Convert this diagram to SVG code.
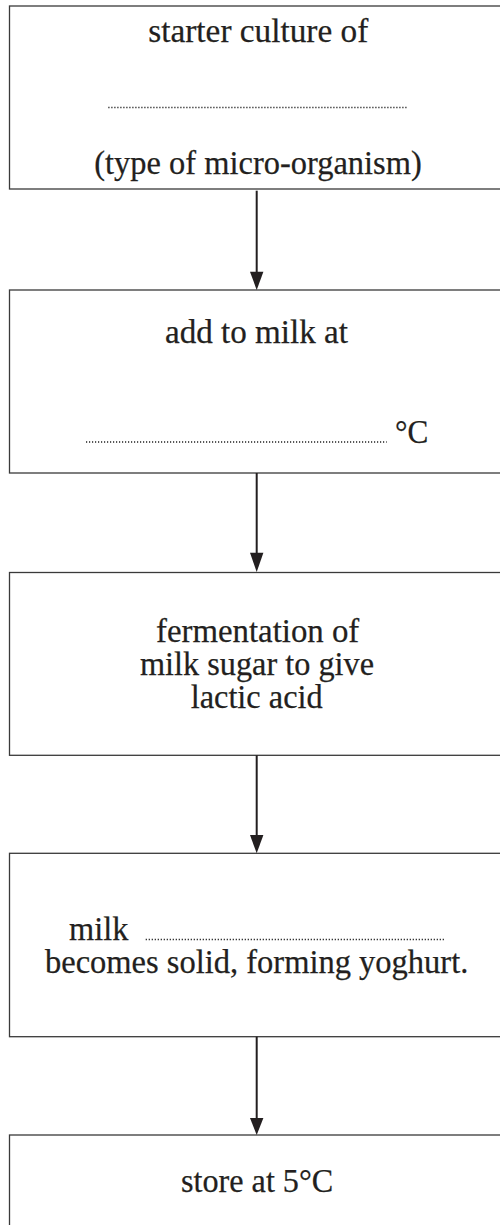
<svg xmlns="http://www.w3.org/2000/svg" width="500" height="1225" viewBox="0 0 500 1225">
<style>
.box{fill:#fff;stroke:#3a3a3a;stroke-width:1.3}
.t{font-size:34px;fill:#231f20;stroke:#231f20;stroke-width:0.25}
.dots{stroke:#222;stroke-width:1.3;stroke-dasharray:1.2 1.8;fill:none}
.conn line{stroke:#231f20;stroke-width:2}
.conn polygon{fill:#231f20}
</style>
<rect width="500" height="1225" fill="#fff"/>
<g font-family="'Liberation Serif', 'Times New Roman', Times, serif">
<g id="node1">
<rect class="box" x="9.5" y="6" width="510" height="183"/>
<text class="t" x="148.3" y="42" textLength="220" lengthAdjust="spacingAndGlyphs">starter culture of</text>
<line class="dots" x1="108.3" y1="107.5" x2="408.3" y2="107.5"/>
<text class="t" x="94.3" y="173.5" textLength="327.4" lengthAdjust="spacingAndGlyphs">(type of micro-organism)</text>
</g>
<g id="node2">
<rect class="box" x="9.5" y="290" width="510" height="183"/>
<text class="t" x="165" y="343" textLength="183" lengthAdjust="spacingAndGlyphs">add to milk at</text>
<line class="dots" x1="86" y1="442" x2="386.7" y2="442"/>
<text class="t" x="395" y="443.3" textLength="33.3" lengthAdjust="spacingAndGlyphs">°C</text>
</g>
<g id="node3">
<rect class="box" x="9.5" y="572.5" width="510" height="182.8"/>
<text class="t" x="156" y="641.7" textLength="203.3" lengthAdjust="spacingAndGlyphs">fermentation of</text>
<text class="t" x="140" y="675" textLength="234" lengthAdjust="spacingAndGlyphs">milk sugar to give</text>
<text class="t" x="190.7" y="708" textLength="132" lengthAdjust="spacingAndGlyphs">lactic acid</text>
</g>
<g id="node4">
<rect class="box" x="9.5" y="853.3" width="510" height="183.4"/>
<text class="t" x="69" y="940" textLength="59.3" lengthAdjust="spacingAndGlyphs">milk</text>
<line class="dots" x1="145.7" y1="939.5" x2="445.7" y2="939.5"/>
<text class="t" x="45" y="972.7" textLength="423.3" lengthAdjust="spacingAndGlyphs">becomes solid, forming yoghurt.</text>
</g>
<g id="node5">
<rect class="box" x="9.5" y="1135" width="510" height="120"/>
<text class="t" x="181" y="1191.7" textLength="152.3" lengthAdjust="spacingAndGlyphs">store at 5°C</text>
</g>
</g>
<g id="connectors" class="conn">
<line x1="256.7" y1="190.7" x2="256.7" y2="273"/>
<polygon points="250,271.7 263.4,271.7 256.7,290"/>
<line x1="256.7" y1="473" x2="256.7" y2="554"/>
<polygon points="250,552.7 263.4,552.7 256.7,572"/>
<line x1="256.7" y1="755.3" x2="256.7" y2="836"/>
<polygon points="250,835 263.4,835 256.7,853.3"/>
<line x1="256.7" y1="1036.7" x2="256.7" y2="1119"/>
<polygon points="250,1118 263.4,1118 256.7,1135"/>
</g>
</svg>
